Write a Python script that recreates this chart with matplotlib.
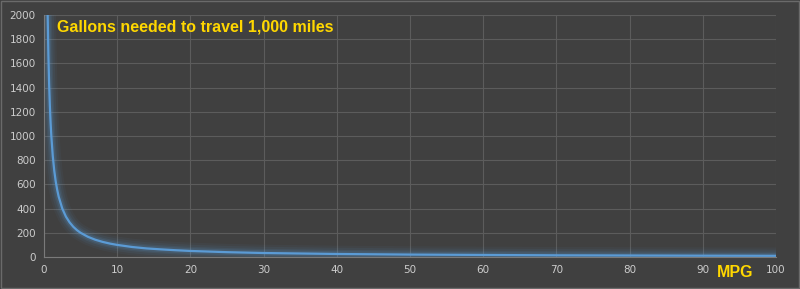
import matplotlib.pyplot as plt

# values (gallons needed for 1,000 miles at a given mpg)
mpg = [0.5, 0.6, 0.7, 0.8, 0.9, 1, 1.2, 1.4, 1.6, 1.8, 2, 2.5, 3, 3.5, 4, 4.5, 5,
       6, 7, 8, 9, 10, 12, 14, 16, 18, 20, 25, 30, 40, 50, 60, 70, 80, 90, 100]
gallons = [2000, 1667, 1429, 1250, 1111, 1000, 833, 714, 625, 556, 500, 400, 333, 286, 250, 222, 200,
           167, 143, 125, 111, 100, 83, 71, 63, 56, 50, 40, 33, 25, 20, 17, 14, 12.5, 11, 10]

x_ticks = list(range(0, 101, 10))
y_ticks = list(range(0, 2001, 200))

bg = '#404040'
fig = plt.figure(figsize=(8, 2.89), dpi=100, facecolor=bg)
ax = fig.add_axes([0.055, 0.1107, 0.915, 0.8374], facecolor=bg)

# border around the whole chart
fig.patches.append(plt.Rectangle((0.001, 0.004), 0.998, 0.993, transform=fig.transFigure,
                                 fill=False, edgecolor='#6a6a6a', linewidth=1))

# glow behind the line
for lw, a in [(12, 0.05), (9, 0.07), (6, 0.1), (4, 0.15)]:
    ax.plot(mpg, gallons, color='#5b9bd5', linewidth=lw, alpha=a, solid_capstyle='round', zorder=2)
ax.plot(mpg, gallons, color='#5b9bd5', linewidth=1.6, zorder=3)

ax.set_xlim(0, 100)
ax.set_ylim(0, 2000)
ax.set_xticks(x_ticks)
ax.set_yticks(y_ticks)
ax.grid(True, color='#5c5c5c', linewidth=0.8)
ax.set_axisbelow(True)
for s in ['top', 'right']:
    ax.spines[s].set_visible(False)
for s in ['left', 'bottom']:
    ax.spines[s].set_color('#7a7a7a')
    ax.spines[s].set_linewidth(0.8)
ax.tick_params(length=0, colors='#cccccc', labelsize=7.5, pad=6)

ax.text(0.018, 0.95, 'Gallons needed to travel 1,000 miles', transform=ax.transAxes,
        color='#ffd700', fontsize=11.5, fontweight='bold', family='Liberation Sans', va='center')
fig.text(0.919, 0.058, 'MPG', color='#ffd700', fontsize=11.5, fontweight='bold',
         family='Liberation Sans', ha='center', va='center')

plt.savefig('out.png', dpi=100, facecolor=bg)
